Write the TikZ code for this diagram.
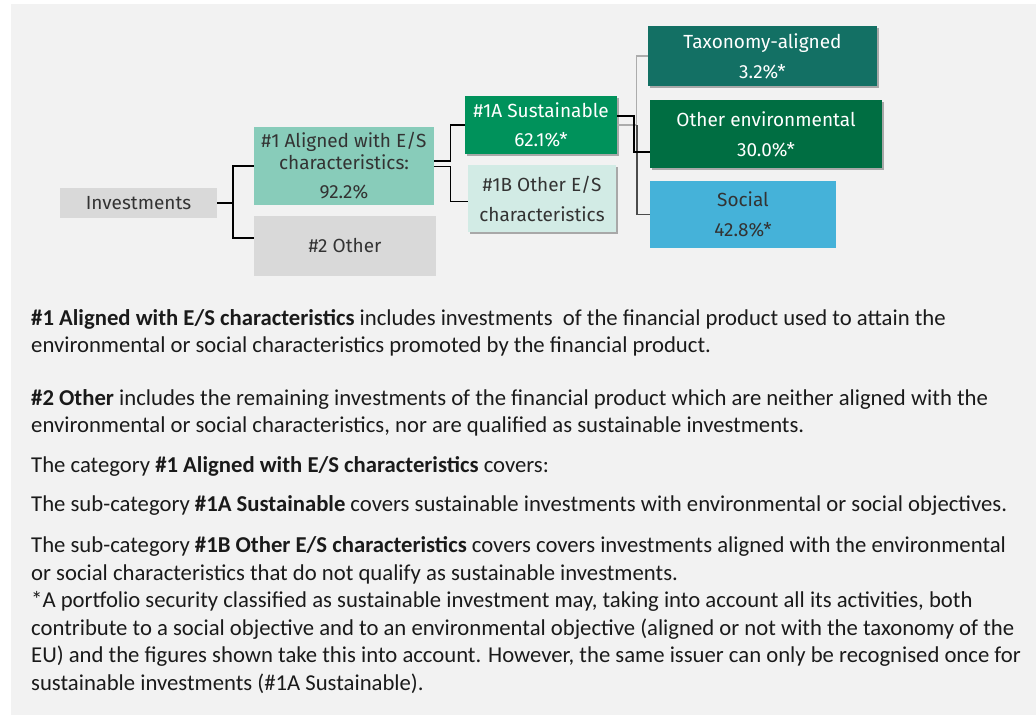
\documentclass[tikz,border=0pt]{standalone}
\usepackage{fontspec}
\setmainfont{Carlito}
\newfontfamily\dfont{Fira Sans}
\usetikzlibrary{shadows}
\definecolor{bgc}{HTML}{F2F2F2}
\definecolor{boxgray}{HTML}{D9D9D9}
\definecolor{alc}{HTML}{88CCBA}
\definecolor{saC}{HTML}{00925B}
\definecolor{sbC}{HTML}{D2EBE5}
\definecolor{taxc}{HTML}{137064}
\definecolor{envc}{HTML}{006E42}
\definecolor{socc}{HTML}{45B2D9}
\definecolor{dtxt}{HTML}{333333}
\definecolor{btx}{HTML}{1A1A1A}
\begin{document}
\begin{tikzpicture}[x=1pt,y=-1pt,
  dbox/.style={font=\dfont\fontsize{19}{30}\selectfont, align=center, text=dtxt, inner sep=0pt, outer sep=0pt},
  dark/.style={text=white},
  shad/.style={drop shadow={shadow xshift=1.5pt, shadow yshift=-2pt, opacity=0.3, fill=black}},
  conn/.style={line width=1.3pt, black},
  btxt/.style={font=\fontsize{22.7}{27.6}\selectfont, text=btx, inner sep=0pt, anchor=base west}]
\useasboundingbox (0,0) rectangle (1036,717);
\fill[bgc] (11,4) rectangle (1036,715);
% boxes
\node[dbox, fill=boxgray, minimum width=157pt, minimum height=30pt] (inv) at (138.5,203) {Investments};
\node[dbox, fill=alc, minimum width=180pt, minimum height=78pt, font=\dfont\fontsize{19}{22}\selectfont] (al) at (344,166) {\#1 Aligned with E/S\\ characteristics:\\[7pt] 92.2\%};
\node[dbox, fill=boxgray, minimum width=182pt, minimum height=60pt] (oth) at (345,246) {\#2 Other};
\node[dbox, dark, fill=saC, shad, minimum width=152pt, minimum height=58pt] (sa) at (541,125) {\#1A Sustainable\\[-1pt] 62.1\%*};
\node[dbox, fill=sbC, shad, minimum width=148pt, minimum height=67pt] (sb) at (542,198.5) {\#1B Other E/S\\ characteristics};
\node[dbox, dark, fill=taxc, shad, minimum width=229pt, minimum height=60pt] (tax) at (762.5,56) {Taxonomy-aligned\\ 3.2\%*};
\node[dbox, dark, fill=envc, shad, minimum width=232pt, minimum height=68pt] (env) at (766,134) {Other environmental\\ 30.0\%*};
\node[dbox, fill=socc, minimum width=186pt, minimum height=67pt] (soc) at (743,214.5) {Social\\ 42.8\%*};
% connectors
\draw[conn] (inv.east) -- ++(16,0) |- (al.west);
\draw[conn] (inv.east) -- ++(16,0) |- ([yshift=8pt]oth.west);
\draw[conn] ([yshift=5pt]al.east) -- ++(16.7,0) |- (sa.west);
\draw[conn] ([yshift=-0.7pt]al.east) -- ++(16.7,0) |- ([yshift=-2.8pt]sb.west);
\draw[line width=1.2pt, gray!65] (sa.east) -- ++(19.5,0) |- (tax.west);
\draw[line width=1.3pt, black!70] ([xshift=20pt]sa.east) |- (soc.west);
\draw[conn] ([yshift=9pt]sa.east) -- ++(17,0) |- ([yshift=-18pt]env.west);
% body text
\node[btxt] (p1) at (31,325) {\textbf{\#1 Aligned with E/S characteristics} includes investments\ \ of the financial product used to attain the};
\node[btxt] (p2) at (31,352.7) {environmental or social characteristics promoted by the financial product.};
\node[btxt] (p3) at (31,405) {\textbf{\#2 Other} includes the remaining investments of the financial product which are neither aligned with the};
\node[btxt] (p4) at (31,432.7) {environmental or social characteristics, nor are qualified as sustainable investments.};
\node[btxt] (p5) at (31,472.7) {The category \textbf{\#1 Aligned with E/S characteristics} covers:};
\node[btxt] (p6) at (31,511.7) {The sub-category \textbf{\#1A Sustainable} covers sustainable investments with environmental or social objectives.};
\node[btxt] (p7) at (31,552.3) {The sub-category \textbf{\#1B Other E/S characteristics} covers covers investments aligned with the environmental};
\node[btxt] (p8) at (31,580) {or social characteristics that do not qualify as sustainable investments.};
\node[btxt] (p9) at (31,607.7) {*A portfolio security classified as sustainable investment may, taking into account all its activities, both};
\node[btxt] (p10) at (31,635) {contribute to a social objective and to an environmental objective (aligned or not with the taxonomy of the};
\node[btxt] (p11) at (31,662.7) {EU) and the figures shown take this into account. However, the same issuer can only be recognised once for};
\node[btxt] (p12) at (31,690) {sustainable investments (\#1A Sustainable).};
\end{tikzpicture}
\end{document}
